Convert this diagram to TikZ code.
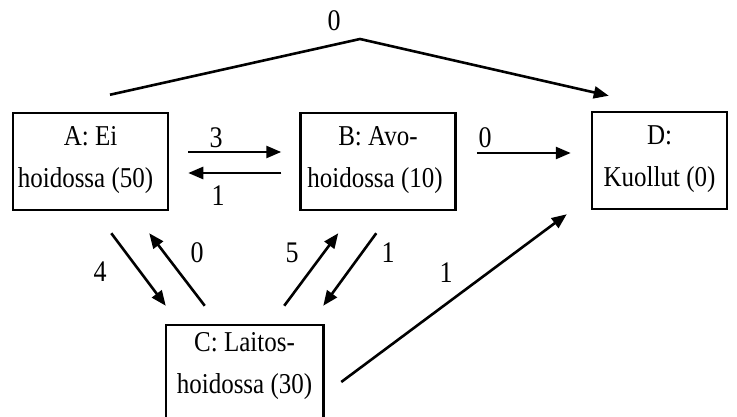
\documentclass[tikz,border=0pt]{standalone}
\usepackage{fontspec}
\setmainfont{Liberation Serif}
\usetikzlibrary{arrows.meta,calc}
% slightly tall lettering
\newcommand\tallline[1]{\scalebox{1}[1.15]{#1}}
\tikzset{
  state/.style={draw, line width=2.5pt, minimum width=155pt, minimum height=97pt,
    inner sep=0pt, align=center, text depth=9pt, font=\fontsize{25}{42}\selectfont},
  flow/.style={line width=2.6pt, -{Triangle[length=15pt,width=12pt]}},
  num/.style={font=\fontsize{26}{30}\selectfont, inner sep=0pt},
}
\begin{document}
\begin{tikzpicture}[x=1pt,y=-1pt]
\useasboundingbox (0,0) rectangle (737,417);

% states
\node[state] (A) at (90.5,161.5) {\tallline{A: Ei}\\\tallline{hoidossa (50)}\kern10pt};
\node[state] (B) at (378,161.5) {\tallline{B: Avo-}\\\tallline{hoidossa (10)}\kern6pt};
\node[state, minimum width=135pt] (D) at (659.5,160.5) {\tallline{D:}\\\tallline{Kuollut (0)}};
\node[state, draw=none, minimum height=91pt, text depth=18pt] (C) at (244.5,371.5) {\tallline{C: Laitos-}\\\tallline{hoidossa (30)}};
\draw[line width=2.5pt] (C.south west) |- (C.north east) -- (C.south east);

% transitions
\coordinate (peak) at (360,39);
\draw[flow] ($(A.north)+(19.5,-17)$) -- (peak) -- ($(D.north west)+(18,-15)$);
\draw[flow] ($(A.east)+(19,-9.5)$) -- ($(B.west)+(-18,-9.5)$);
\draw[flow] ($(B.west)+(-18,11.5)$) -- ($(A.east)+(19,11.5)$);
\draw[flow] ($(B.east)+(20,-8.5)$) -- ($(D.west)+(-20,-7.5)$);
\draw[flow] ($(A.south east)+(-58,22)$) -- ($(C.north west)+(0,-19)$);
\draw[flow] ($(C.north west)+(39,-19)$) -- ($(A.south east)+(-20,22)$);
\draw[flow] ($(C.north east)+(-39,-19)$) -- ($(B.south west)+(39,22)$);
\draw[flow] ($(B.south west)+(77,22)$) -- ($(C.north east)+(0,-19)$);
\draw[flow] ($(C.east)+(18,10.5)$) -- ($(D.south west)+(-24,4)$);

% transition counts
\node[num] (nAD) at (334,21) {\tallline{0}};
\node[num] (nAB) at (216,138) {\tallline{3}};
\node[num] (nBA) at (218,196) {\tallline{1}};
\node[num] (nBD) at (485,138) {\tallline{0}};
\node[num] (nAC) at (100,272) {\tallline{4}};
\node[num] (nCA) at (197,253) {\tallline{0}};
\node[num] (nCB) at (292,253) {\tallline{5}};
\node[num] (nBC) at (388,253) {\tallline{1}};
\node[num] (nCD) at (446,273) {\tallline{1}};
\end{tikzpicture}
\end{document}
